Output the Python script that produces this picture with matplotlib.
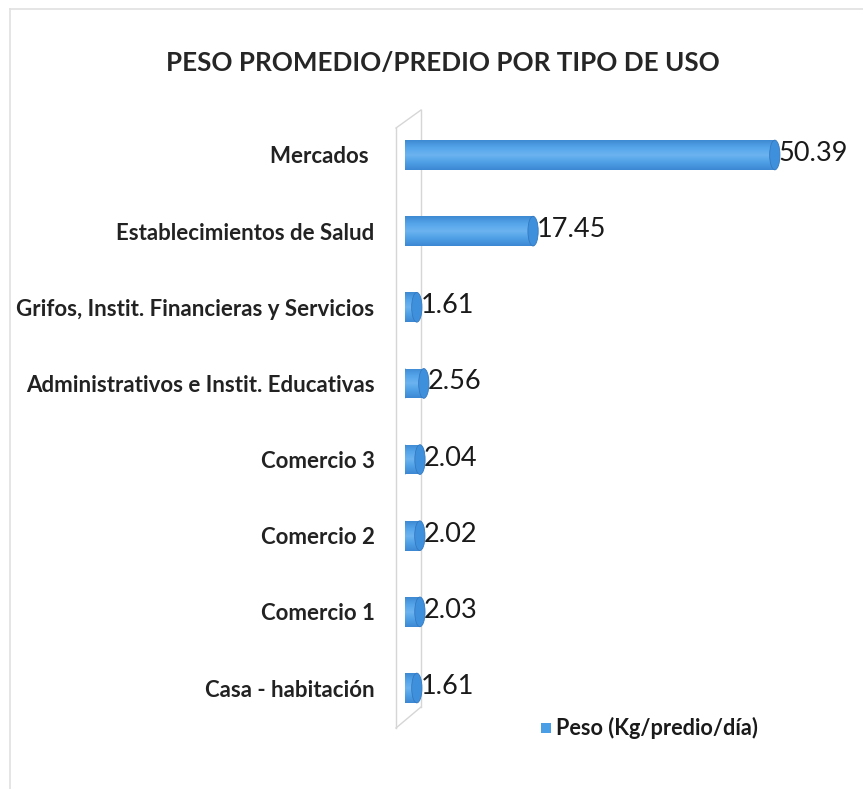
import matplotlib
matplotlib.use("Agg")
import matplotlib.pyplot as plt
import numpy as np
from matplotlib.patches import Ellipse
from matplotlib.colors import LinearSegmentedColormap
from matplotlib.lines import Line2D

categories = ["Casa - habitación", "Comercio 1", "Comercio 2", "Comercio 3",
              "Administrativos e Instit. Educativas",
              "Grifos, Instit. Financieras y Servicios",
              "Establecimientos de Salud", "Mercados "]
values = [1.61, 2.03, 2.02, 2.04, 2.56, 1.61, 17.45, 50.39]
value_labels = ["1.61", "2.03", "2.02", "2.04", "2.56", "1.61", "17.45", "50.39"]
title = "PESO PROMEDIO/PREDIO POR TIPO DE USO"
legend_label = "Peso (Kg/predio/día)"

W, H = 863, 789
fig = plt.figure(figsize=(W / 100, H / 100), dpi=100)
fig.patch.set_facecolor("white")

ax_left, ax_right = 405 / W, 860 / W
ax_bottom, ax_top = 1 - 733.7 / H, 1 - 109.3 / H
ax = fig.add_axes([ax_left, ax_bottom, ax_right - ax_left, ax_top - ax_bottom])
ax.patch.set_alpha(0)
for s in ax.spines.values():
    s.set_visible(False)
ax.set_xticks([])
ax.set_yticks(range(len(categories)))
ax.set_yticklabels(categories, fontfamily="Lato", fontweight="bold", fontsize=16, color="#222222")
ax.tick_params(axis="y", length=0, pad=22)

base = "#4a9ee6"
cmap = LinearSegmentedColormap.from_list("cyl", ["#3d88d2", "#4e9fe6", "#6cb4f0", "#55a5ea", "#3f8ad3"])
bh = 0.39
bars = ax.barh(range(len(categories)), values, height=bh, color=base, edgecolor="none", zorder=2)
grad = np.linspace(0, 1, 64).reshape(-1, 1)
for b, v, lab in zip(bars, values, value_labels):
    y0 = b.get_y()
    im = ax.imshow(grad, cmap=cmap, aspect="auto", origin="lower",
                   extent=[0, v, y0, y0 + bh], zorder=3)
    im.set_clip_path(b)
    ec = Ellipse((v, y0 + bh / 2), width=1.4, height=bh, facecolor="#3f90dc",
                 edgecolor="#3479c0", linewidth=0.6, zorder=4)
    ax.add_patch(ec)
    sc = Ellipse((0, y0 + bh / 2), width=1.4, height=bh, facecolor="#4e9fe6",
                 edgecolor="none", zorder=1.5)
    ax.add_patch(sc)
    ax.text(v + 0.5, y0 + bh / 2 + 0.02, lab, va="center", ha="left",
            fontfamily="Lato", fontsize=19.5, color="#1a1a1a", zorder=5)
ax.set_xlim(0, 62)
ax.set_ylim(-0.6, len(categories) - 0.4)

# 3D back wall outline
def px(x, y):
    return (x / W, 1 - y / H)
wall = [((396, 128), (396, 728)), ((396, 128), (421, 110)), ((421, 110), (421, 707)),
        ((396, 728), (421, 707))]
for (a, b) in wall:
    p1, p2 = px(*a), px(*b)
    fig.add_artist(Line2D([p1[0], p2[0]], [p1[1], p2[1]], transform=fig.transFigure,
                          color="#d6d6d6", linewidth=1.0, zorder=0))

# chart border (left/top)
for (a, b) in [((10, 9), (10, 789)), ((10, 9), (863, 9))]:
    p1, p2 = px(*a), px(*b)
    fig.add_artist(Line2D([p1[0], p2[0]], [p1[1], p2[1]], transform=fig.transFigure,
                          color="#e0e0e0", linewidth=1.2, zorder=0))

fig.text(443 / W, 1 - 63 / H, title, ha="center", va="center",
         fontfamily="Lato", fontweight="bold", fontsize=18.7, color="#262626")

# legend
fig.add_artist(plt.Rectangle(px(541, 733), 10 / W, 10 / H, transform=fig.transFigure,
                             facecolor=base, edgecolor="none"))
fig.text(556 / W, 1 - 728 / H, legend_label, ha="left", va="center",
         fontfamily="Lato", fontweight="bold", fontsize=15.6, color="#1a1a1a")

fig.savefig("out.png", dpi=100, facecolor="white")
